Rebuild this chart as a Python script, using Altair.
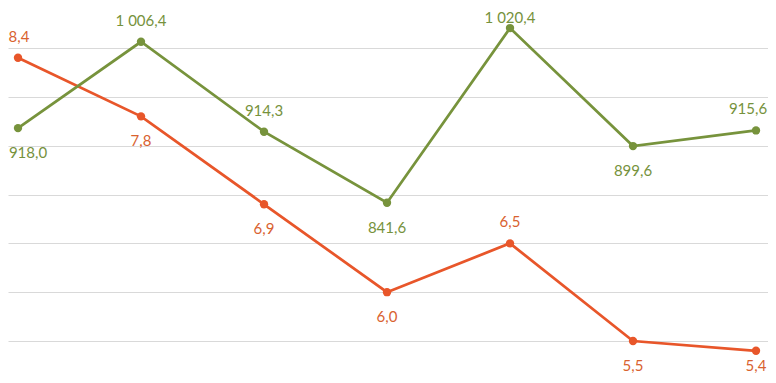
import altair as alt
import pandas as pd

idx = [0, 1, 2, 3, 4, 5, 6]
orange_vals = [8.4, 7.8, 6.9, 6.0, 6.5, 5.5, 5.4]
green_vals = [918.0, 1006.4, 914.3, 841.6, 1020.4, 899.6, 915.6]
orange_above = [True, False, False, False, True, False, False]
green_above = [False, True, True, False, True, False, True]

ORANGE = "#E8562A"
ORANGE_TXT = "#D9622F"
GREEN = "#77933C"
GREEN_TXT = "#76923C"

W, H = 760, 367
X_MIN, X_MAX = -0.0813, 6.0976
O_MIN, O_MAX = 5.152, 8.9096
G_MIN, G_MAX = 665.2, 1040.96


def fmt(v):
    return f"{v:,.1f}".replace(",", " ").replace(".", ",")


df_o = pd.DataFrame({"i": idx, "v": orange_vals, "lab": [fmt(v) for v in orange_vals],
                     "above": orange_above})
df_g = pd.DataFrame({"i": idx, "v": green_vals, "lab": [fmt(v) for v in green_vals],
                     "above": green_above})

xs = alt.Scale(domain=[X_MIN, X_MAX], nice=False, zero=False)
xe = alt.X("i:Q", scale=xs, axis=None)
xpx = W / (X_MAX - X_MIN)

ys_o = alt.Scale(domain=[O_MIN, O_MAX], nice=False, zero=False)
ys_g = alt.Scale(domain=[G_MIN, G_MAX], nice=False, zero=False)

y_o_axis = alt.Axis(values=[5.5, 6.0, 6.5, 7.0, 7.5, 8.0, 8.5], grid=True, gridColor="#D9D9D9",
                    gridWidth=1, labels=False, ticks=False, domain=False, title=None)


def series(df, scale, axis, vmin, vmax, line_color, txt_color, half_w):
    k = H / (vmax - vmin)  # px per unit
    base = alt.Chart(df).encode(x=xe)
    line = base.mark_line(color=line_color, strokeWidth=2.75).encode(
        y=alt.Y("v:Q", scale=scale, axis=axis))
    pts = base.mark_circle(color=line_color, size=70, opacity=1).encode(
        y=alt.Y("v:Q", scale=scale, axis=axis))
    txt = base.transform_calculate(
        ly=(f"datum.above ? min(datum.v + {21 / k}, {vmax - 10 / k}) "
            f": max(datum.v - {25 / k}, {vmin + 9 / k})"),
        lx=f"min(max(datum.i, {X_MIN + half_w / xpx}), {X_MAX - half_w / xpx})",
    ).mark_text(color=txt_color, font="Lato", fontSize=15, baseline="middle").encode(
        x=alt.X("lx:Q", scale=xs, axis=None),
        y=alt.Y("ly:Q", scale=scale, axis=axis),
        text="lab:N")
    return alt.layer(line, pts, txt)


orange = series(df_o, ys_o, y_o_axis, O_MIN, O_MAX, ORANGE, ORANGE_TXT, 11)
green = series(df_g, ys_g, None, G_MIN, G_MAX, GREEN, GREEN_TXT, 20)

chart = alt.layer(orange, green).resolve_scale(y="independent").properties(
    width=W, height=H, padding=0, autosize=alt.AutoSizeParams(type="none")
).configure_view(stroke=None)

chart.save("out.html", embed_options={"renderer": "svg", "actions": False})
